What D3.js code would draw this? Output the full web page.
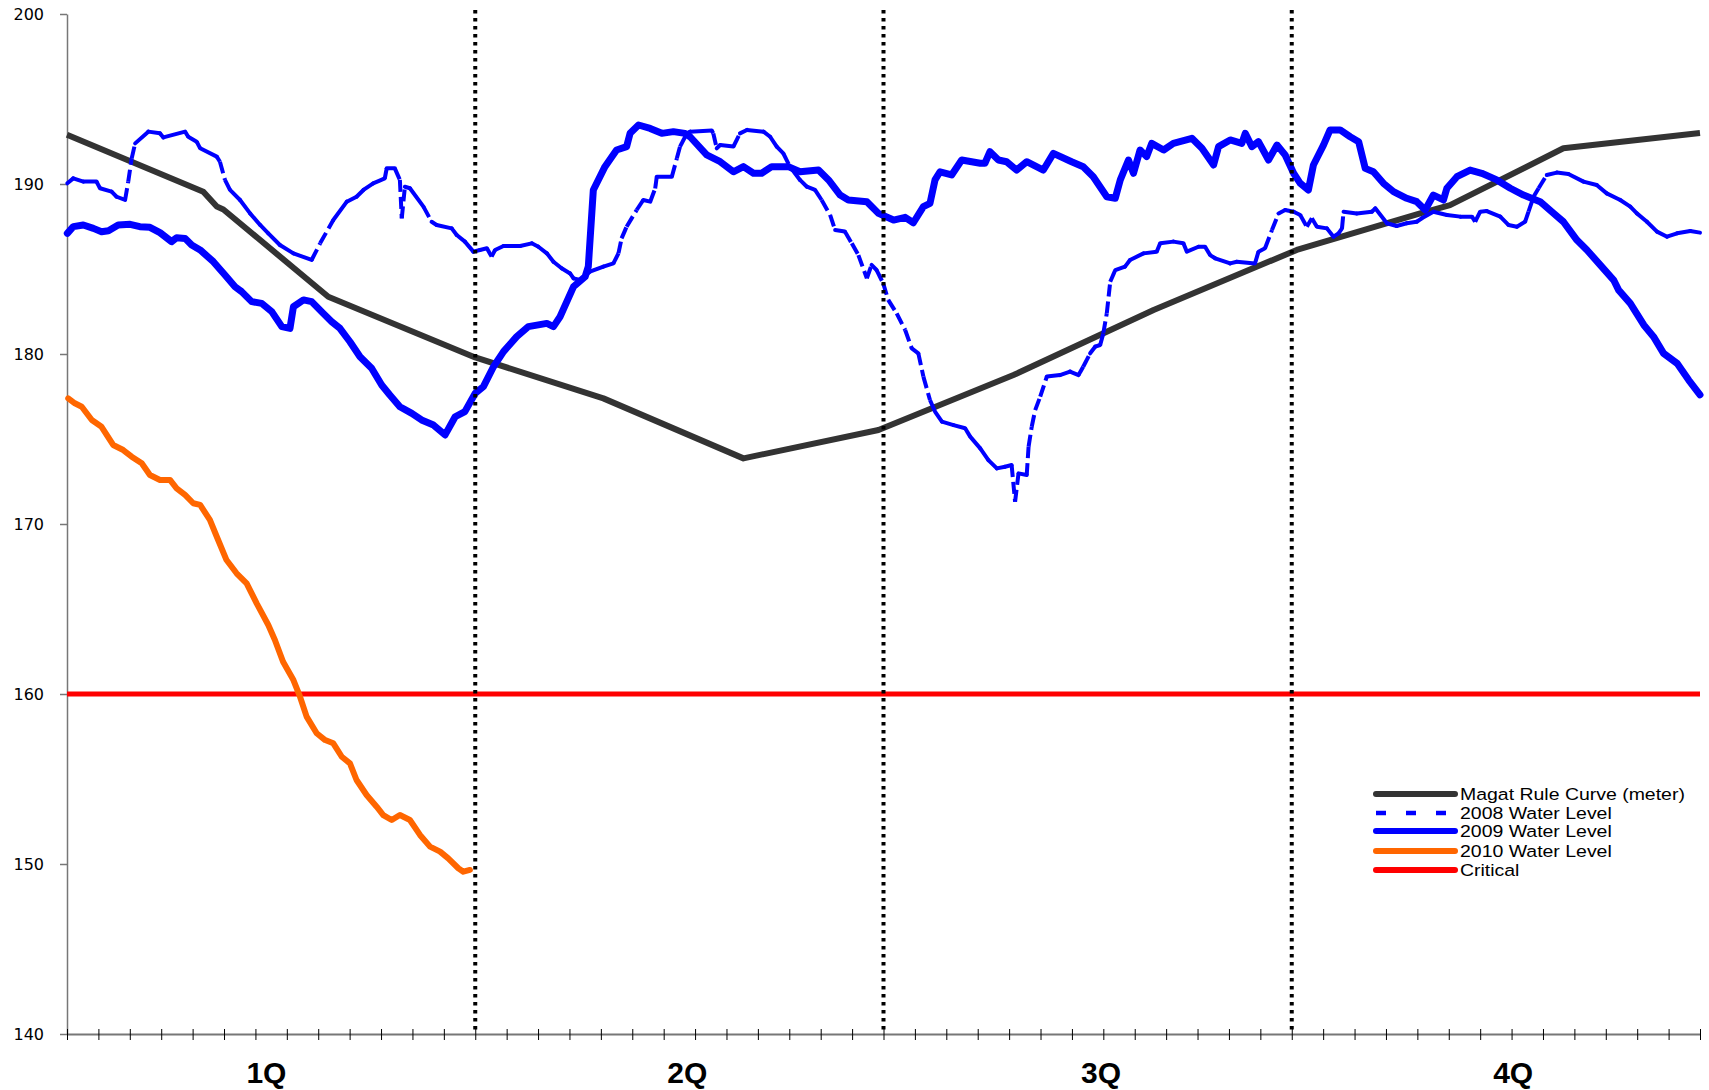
<!DOCTYPE html>
<html>
<head>
<meta charset="utf-8">
<script src="https://cdn.jsdelivr.net/npm/d3@7"></script>
<style>
    body { margin: 0; background: #fff; }
    svg { display: block; }
</style>
</head>
<body>
<svg id="chart" width="1709" height="1090"></svg>
<script>
// values: [week, level in meters]
const ruleCurve = [
    [0, 192.9], [4.34, 189.55], [4.77, 188.67], [4.98, 188.5], [8.32, 183.37],
    [13, 179.8], [17.08, 177.39], [21.54, 173.86], [25.84, 175.53], [30.14, 178.76],
    [34.6, 182.59], [39.16, 186.12], [43.09, 188.27], [44.04, 188.76], [47.65, 192.1],
    [52, 193.0],
];

const level2008 = [
    [0.01, 190.04], [0.2, 190.33], [0.52, 190.14], [0.94, 190.14], [1.05, 189.75],
    [1.42, 189.55], [1.58, 189.25], [1.85, 189.06], [1.95, 190.14], [2.06, 191.51],
    [2.17, 192.39], [2.59, 193.08], [2.96, 192.98], [3.07, 192.74], [3.76, 193.08],
    [3.86, 192.78], [4.13, 192.49], [4.24, 192.1], [4.77, 191.61], [4.87, 191.31],
    [5.03, 190.24], [5.19, 189.65], [5.51, 189.06], [5.83, 188.27], [6.15, 187.59],
    [6.41, 187.1], [6.78, 186.41], [7.21, 185.92], [7.79, 185.53], [8.06, 186.51],
    [8.48, 187.88], [8.91, 188.96], [9.22, 189.25], [9.44, 189.65], [9.75, 190.04],
    [10.12, 190.33], [10.18, 190.92], [10.44, 190.92], [10.6, 190.24], [10.66, 187.98],
    [10.76, 189.84], [10.92, 189.75], [11.35, 188.67], [11.61, 187.78], [11.77, 187.59],
    [12.25, 187.39], [12.41, 187.0], [12.67, 186.61], [12.94, 186.02], [13.15, 186.12],
    [13.37, 186.22], [13.52, 185.73], [13.63, 186.12], [13.9, 186.35], [14.43, 186.35],
    [14.8, 186.51], [15.01, 186.31], [15.28, 185.92], [15.49, 185.43], [15.75, 185.04],
    [16.02, 184.74], [16.13, 184.45], [16.34, 184.35], [16.65, 184.84], [17.08, 185.14],
    [17.4, 185.33], [17.56, 185.92], [17.66, 186.8], [17.82, 187.49], [18.14, 188.47],
    [18.35, 189.06], [18.57, 188.96], [18.73, 189.74], [18.78, 190.43], [19.26, 190.43],
    [19.42, 191.51], [19.52, 192.2], [19.74, 192.98], [19.84, 193.08], [20.53, 193.14],
    [20.58, 192.98], [20.69, 192.1], [20.8, 192.29], [21.22, 192.2], [21.43, 192.98],
    [21.65, 193.18], [22.18, 193.08], [22.39, 192.78], [22.6, 192.2], [22.81, 191.8],
    [23.02, 191.02], [23.34, 190.24], [23.56, 189.84], [23.82, 189.65], [24.03, 189.06],
    [24.3, 188.18], [24.46, 187.29], [24.77, 187.2], [24.99, 186.51], [25.2, 185.82],
    [25.47, 184.45], [25.62, 185.24], [25.78, 184.94], [25.99, 184.16], [26.15, 183.18],
    [26.42, 182.39], [26.69, 181.41], [26.9, 180.33], [27.11, 180.04], [27.27, 178.67],
    [27.48, 177.29], [27.64, 176.61], [27.86, 176.02], [28.23, 175.82], [28.6, 175.63],
    [28.76, 175.14], [29.08, 174.45], [29.34, 173.76], [29.61, 173.27], [29.87, 173.37],
    [30.08, 173.47], [30.19, 171.31], [30.3, 172.98], [30.56, 172.88], [30.62, 174.55],
    [30.72, 175.72], [30.83, 176.7], [30.99, 177.49], [31.2, 178.67], [31.62, 178.76],
    [31.94, 178.96], [32.21, 178.76], [32.36, 179.25], [32.58, 180.04], [32.74, 180.43],
    [32.9, 180.53], [33.0, 181.22], [33.11, 182.39], [33.22, 184.25], [33.38, 184.94],
    [33.69, 185.14], [33.85, 185.53], [34.28, 185.92], [34.7, 186.02], [34.81, 186.51],
    [35.23, 186.61], [35.55, 186.51], [35.66, 186.02], [36.03, 186.31], [36.24, 186.31],
    [36.4, 185.82], [36.56, 185.63], [37.04, 185.33], [37.25, 185.43], [37.83, 185.33],
    [37.94, 186.02], [38.15, 186.22], [38.37, 187.29], [38.58, 188.27], [38.79, 188.47],
    [39.06, 188.37], [39.27, 188.18], [39.48, 187.49], [39.64, 187.98], [39.8, 187.49],
    [40.12, 187.39], [40.33, 186.9], [40.49, 187.1], [40.6, 187.39], [40.65, 188.37],
    [41.07, 188.27], [41.55, 188.37], [41.66, 188.57], [42.03, 187.69], [42.34, 187.53],
    [42.66, 187.69], [42.98, 187.78], [43.14, 187.98], [43.51, 188.37], [43.94, 188.18],
    [44.37, 188.08], [44.74, 188.08], [44.84, 187.78], [45.0, 188.37], [45.21, 188.41],
    [45.64, 188.08], [45.9, 187.59], [46.17, 187.49], [46.43, 187.78], [46.54, 188.37],
    [46.7, 189.25], [46.86, 189.75], [47.12, 190.53], [47.44, 190.67], [47.81, 190.59],
    [48.29, 190.14], [48.71, 189.94], [49.03, 189.45], [49.46, 189.06], [49.78, 188.67],
    [49.99, 188.27], [50.31, 187.78], [50.63, 187.2], [50.95, 186.9], [51.27, 187.1],
    [51.69, 187.24], [52, 187.14],
];

const level2009 = [
    [0.01, 187.1], [0.2, 187.49], [0.52, 187.59], [0.84, 187.39], [1.1, 187.19],
    [1.32, 187.25], [1.63, 187.59], [2.01, 187.63], [2.32, 187.49], [2.64, 187.45],
    [2.96, 187.14], [3.33, 186.61], [3.49, 186.84], [3.76, 186.8], [3.97, 186.41],
    [4.24, 186.12], [4.66, 185.43], [5.03, 184.65], [5.35, 183.96], [5.56, 183.67],
    [5.88, 183.08], [6.2, 182.98], [6.52, 182.49], [6.84, 181.61], [7.1, 181.51],
    [7.21, 182.78], [7.53, 183.18], [7.79, 183.08], [8.16, 182.39], [8.43, 181.9],
    [8.69, 181.51], [9.01, 180.72], [9.33, 179.84], [9.7, 179.16], [10.02, 178.18],
    [10.28, 177.59], [10.6, 176.9], [10.98, 176.51], [11.29, 176.12], [11.67, 175.82],
    [12.04, 175.24], [12.36, 176.31], [12.67, 176.61], [13.0, 177.69], [13.26, 178.08],
    [13.58, 179.25], [13.9, 180.14], [14.32, 181.02], [14.69, 181.61], [15.28, 181.8],
    [15.49, 181.61], [15.7, 182.19], [16.13, 183.96], [16.5, 184.55], [16.6, 185.14],
    [16.76, 189.65], [17.13, 191.02], [17.5, 192.0], [17.82, 192.2], [17.93, 192.98],
    [18.2, 193.47], [18.57, 193.27], [18.94, 192.98], [19.31, 193.08], [19.68, 192.98],
    [19.84, 192.78], [20.37, 191.71], [20.8, 191.31], [21.22, 190.72], [21.54, 191.02],
    [21.86, 190.63], [22.12, 190.63], [22.44, 191.02], [22.97, 191.02], [23.34, 190.72],
    [23.93, 190.82], [24.25, 190.24], [24.62, 189.35], [24.88, 189.06], [25.47, 188.96],
    [25.84, 188.27], [26.32, 187.88], [26.69, 188.04], [26.95, 187.72], [27.27, 188.67],
    [27.48, 188.86], [27.64, 190.24], [27.8, 190.72], [28.17, 190.53], [28.49, 191.41],
    [29.08, 191.22], [29.23, 191.22], [29.39, 191.9], [29.66, 191.41], [29.92, 191.31],
    [30.24, 190.82], [30.56, 191.31], [31.09, 190.82], [31.41, 191.8], [31.99, 191.31],
    [32.36, 191.02], [32.68, 190.43], [33.11, 189.25], [33.38, 189.16], [33.54, 190.24],
    [33.8, 191.41], [33.96, 190.63], [34.17, 192.0], [34.38, 191.61], [34.54, 192.39],
    [34.92, 192.0], [35.23, 192.39], [35.82, 192.69], [36.14, 192.1], [36.51, 191.12],
    [36.67, 192.2], [37.04, 192.59], [37.41, 192.39], [37.52, 192.98], [37.73, 192.2],
    [37.94, 192.49], [38.26, 191.41], [38.53, 192.29], [38.79, 191.71], [39.06, 190.63],
    [39.27, 190.04], [39.53, 189.65], [39.69, 191.12], [40.01, 192.29], [40.22, 193.18],
    [40.54, 193.18], [40.86, 192.78], [41.13, 192.49], [41.34, 190.92], [41.6, 190.72],
    [41.92, 190.04], [42.24, 189.55], [42.66, 189.16], [42.98, 188.96], [43.25, 188.47],
    [43.51, 189.35], [43.83, 189.06], [43.94, 189.75], [44.26, 190.43], [44.68, 190.82],
    [45.05, 190.63], [45.53, 190.24], [45.96, 189.75], [46.38, 189.35], [46.91, 188.96],
    [47.34, 188.27], [47.65, 187.78], [48.08, 186.7], [48.4, 186.12], [48.82, 185.24],
    [49.25, 184.35], [49.41, 183.76], [49.78, 182.98], [50.21, 181.71], [50.52, 181.02],
    [50.84, 180.04], [51.27, 179.45], [51.64, 178.47], [52, 177.6],
];

const level2010 = [
    [0.04, 177.39], [0.25, 177.1], [0.47, 176.9], [0.79, 176.12], [1.1, 175.72],
    [1.47, 174.65], [1.79, 174.35], [2.06, 173.96], [2.38, 173.57], [2.64, 172.88],
    [2.96, 172.59], [3.28, 172.59], [3.49, 172.1], [3.76, 171.71], [4.02, 171.22],
    [4.24, 171.12], [4.55, 170.24], [4.77, 169.25], [5.08, 167.88], [5.4, 167.1],
    [5.72, 166.51], [6.04, 165.33], [6.41, 164.06], [6.62, 163.18], [6.88, 161.9],
    [7.21, 160.82], [7.42, 159.84], [7.63, 158.67], [7.95, 157.69], [8.22, 157.29],
    [8.48, 157.1], [8.75, 156.31], [9.01, 155.92], [9.22, 154.94], [9.54, 154.06],
    [9.86, 153.37], [10.07, 152.88], [10.34, 152.59], [10.6, 152.88], [10.92, 152.59],
    [11.24, 151.71], [11.56, 151.02], [11.88, 150.73], [12.14, 150.33], [12.46, 149.75],
    [12.62, 149.55], [12.83, 149.65],
];

const criticalLevel = 160;
const yTicks = [140, 150, 160, 170, 180, 190, 200];
const weekTicks = d3.range(0, 53);
const quarterBounds = [13, 26, 39];
const quarterLabels = ['1Q', '2Q', '3Q', '4Q'];
const quarterLabelWeek = [6.35, 19.75, 32.93, 46.05];
const seriesNames = ['Magat Rule Curve (meter)', '2008 Water Level', '2009 Water Level', '2010 Water Level', 'Critical'];

const svg = d3.select('#chart');
svg.append('rect').attr('width', 1709).attr('height', 1090).attr('fill', '#fff');

const x = d3.scaleLinear().domain([0, 52]).range([67, 1700]);
const y = d3.scaleLinear().domain([140, 200]).range([1034, 14]);

const line = d3.line().x(d => x(d[0])).y(d => y(d[1]));

// y axis
const yAxis = svg.append('g')
    .attr('transform', `translate(${x(0)},0)`)
    .call(d3.axisLeft(y).tickValues(yTicks).tickSizeInner(7).tickSizeOuter(0).tickPadding(16));
yAxis.select('.domain').attr('stroke', '#777').attr('stroke-width', 1.5);
yAxis.selectAll('.tick line').attr('stroke', '#777').attr('stroke-width', 1.5);
yAxis.selectAll('.tick text')
    .attr('fill', '#000')
    .style('font', '16px "DejaVu Sans", sans-serif');

// x axis
const xAxis = svg.append('g')
    .attr('transform', `translate(0,${y(140)})`)
    .call(d3.axisBottom(x).tickValues(weekTicks).tickSizeInner(6).tickSizeOuter(0).tickFormat(''));
xAxis.select('.domain').attr('stroke', '#777').attr('stroke-width', 2);
xAxis.selectAll('.tick line').attr('stroke', '#000').attr('stroke-width', 1).attr('y1', -5);

svg.append('g').selectAll('text')
    .data(quarterLabels)
    .join('text')
    .attr('x', (d, i) => x(quarterLabelWeek[i]))
    .attr('y', 1083)
    .attr('text-anchor', 'middle')
    .style('font', 'bold 30px "Liberation Sans", Arial, sans-serif')
    .text(d => d);

const plot = svg.append('g').attr('fill', 'none').attr('stroke-linejoin', 'round');

plot.append('path')
    .attr('d', line(ruleCurve))
    .attr('stroke', '#333')
    .attr('stroke-width', 6);

plot.append('path')
    .attr('d', line([[0, criticalLevel], [52, criticalLevel]]))
    .attr('stroke', '#ff0000')
    .attr('stroke-width', 5);

plot.append('path')
    .attr('d', line(level2010))
    .attr('stroke', '#ff6600')
    .attr('stroke-width', 6)
    .attr('stroke-linecap', 'round');

// 2008: dash pattern restarts on every segment, so only steep stretches show gaps
d3.pairs(level2008).forEach(([a, b]) => {
    const dx = Math.abs(x(b[0]) - x(a[0]));
    const dy = Math.abs(y(b[1]) - y(a[1]));
    const steep = dy > 1.5 * dx;
    plot.append('path')
        .attr('d', line([a, b]))
        .attr('stroke', '#0000ff')
        .attr('stroke-width', 4)
        .attr('stroke-linecap', steep ? 'butt' : 'round')
        .attr('stroke-dasharray', steep ? '12,5' : null);
});

plot.append('path')
    .attr('d', line(level2009))
    .attr('stroke', '#0000ff')
    .attr('stroke-width', 7)
    .attr('stroke-linecap', 'round');

// quarter separators
svg.append('g').selectAll('line')
    .data(quarterBounds)
    .join('line')
    .attr('x1', d => x(d)).attr('x2', d => x(d))
    .attr('y1', 10).attr('y2', y(140))
    .attr('stroke', '#000')
    .attr('stroke-width', 4)
    .attr('stroke-dasharray', '3.5,4.5');

// legend
const legendStyle = [
    { color: '#333', width: 6, dash: null },
    { color: '#0000ff', width: 4.3, dash: '10,20' },
    { color: '#0000ff', width: 6, dash: null },
    { color: '#ff6600', width: 6, dash: null },
    { color: '#ff0000', width: 6, dash: null },
];
const legendRowY = [794, 813, 831, 851, 870];

const legend = svg.append('g');
seriesNames.forEach((name, i) => {
    const s = legendStyle[i];
    legend.append('line')
        .attr('x1', 1376).attr('x2', 1455)
        .attr('y1', legendRowY[i]).attr('y2', legendRowY[i])
        .attr('stroke', s.color)
        .attr('stroke-width', s.width)
        .attr('stroke-linecap', s.dash ? 'butt' : 'round')
        .attr('stroke-dasharray', s.dash);
    legend.append('text')
        .attr('transform', `translate(1460,${legendRowY[i] + 6}) scale(1.18,1)`)
        .style('font', '16.5px "Liberation Sans", Arial, sans-serif')
        .attr('fill', '#000')
        .text(name);
});
</script>
</body>
</html>
